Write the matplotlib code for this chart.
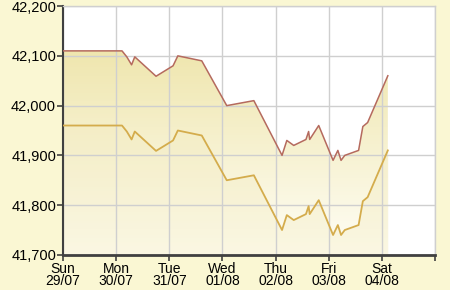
import matplotlib
matplotlib.use("Agg")
import matplotlib.pyplot as plt
import numpy as np
from matplotlib.colors import LinearSegmentedColormap

# days since Sun 29/07
days = [0.00, 1.11, 1.20, 1.29, 1.35, 1.75, 2.07, 2.16, 2.61, 3.08, 3.59,
        4.12, 4.21, 4.34, 4.57, 4.62, 4.64, 4.81, 5.08, 5.17, 5.23, 5.30,
        5.56, 5.64, 5.73, 6.11]
sell = [42110, 42110, 42098, 42082, 42098, 42059, 42080, 42100, 42090, 42000, 42010,
        41900, 41930, 41920, 41932, 41948, 41932, 41960, 41890, 41910, 41890, 41900,
        41910, 41958, 41966, 42060]
buy = [41960, 41960, 41948, 41932, 41948, 41909, 41930, 41950, 41940, 41850, 41860,
       41750, 41780, 41770, 41782, 41798, 41782, 41810, 41740, 41760, 41740, 41750,
       41760, 41808, 41816, 41910]
tick_labels = ["Sun\n29/07", "Mon\n30/07", "Tue\n31/07", "Wed\n01/08",
               "Thu\n02/08", "Fri\n03/08", "Sat\n04/08", ""]
y_ticks = [41700, 41800, 41900, 42000, 42100, 42200]

plt.rcParams['font.family'] = ['Liberation Sans', 'DejaVu Sans']
fig = plt.figure(figsize=(4.5, 2.9), dpi=100, facecolor='#FAF7D3')
ax = fig.add_axes([0.14, 0.121, 0.827, 0.858])
ax.set_facecolor('white')
ax.set_xlim(0, 7)
ax.set_ylim(41700, 42200)

# gradient fill under the upper line
poly = ax.fill_between(days, sell, 41700, color='none', lw=0)
cmap = LinearSegmentedColormap.from_list('g', ['#FFFEF6', '#EFE6AE'])
grad = np.linspace(0, 1, 256).reshape(-1, 1)
im = ax.imshow(grad, aspect='auto', cmap=cmap, origin='lower',
               extent=[0, 7, 41700, 42110], zorder=1)
im.set_clip_path(poly.get_paths()[0], transform=ax.transData)
ax.fill_between(days, buy, 41700, color='#F3EBC0', alpha=0.35, lw=0, zorder=1.5)

ax.grid(True, color='#CFCFCF', lw=1, zorder=2)
ax.plot(days, sell, color='#B56A5E', lw=1.1, zorder=3)
ax.plot(days, buy, color='#D4AC4C', lw=1.3, zorder=3)

ax.set_xticks(range(8))
ax.set_xticklabels(tick_labels, fontsize=10, linespacing=0.85)
ax.set_yticks(y_ticks)
ax.set_yticklabels([f"{v:,}" for v in y_ticks], fontsize=10.5)
ax.tick_params(axis='both', length=4, width=1.2, color='#404040', pad=1)

for s in ['top', 'right']:
    ax.spines[s].set_color('#CFCFCF')
    ax.spines[s].set_linewidth(1)
ax.spines['left'].set_color('#404040')
ax.spines['left'].set_linewidth(1.5)
ax.spines['bottom'].set_color('#404040')
ax.spines['bottom'].set_linewidth(2)

fig.savefig('out.png', dpi=100, facecolor=fig.get_facecolor())
